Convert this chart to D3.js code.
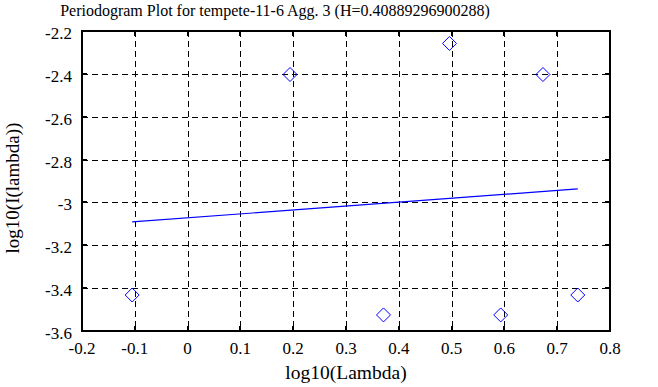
<!DOCTYPE html>
<html>
<head>
<meta charset="utf-8">
<script src="https://cdn.jsdelivr.net/npm/d3@7"></script>
<style>
  body { margin: 0; background: #fff; }
</style>
</head>
<body>
<svg id="chart" width="658" height="387"></svg>
<script>
const title = 'Periodogram Plot for tempete-11-6 Agg. 3 (H=0.40889296900288)';
const xTicks = [-0.2, -0.1, 0, 0.1, 0.2, 0.3, 0.4, 0.5, 0.6, 0.7, 0.8];
const yTicks = [-2.2, -2.4, -2.6, -2.8, -3, -3.2, -3.4, -3.6];
const logLambda = [-0.105, 0.194, 0.371, 0.496, 0.593, 0.673, 0.739];
const logI = [-3.432, -2.403, -3.525, -2.258, -3.525, -2.403, -3.432];
const fitX = [-0.105, 0.739];
const fitY = [-3.091, -2.937];

const FONT = '"Liberation Serif", "Times New Roman", Times, serif';
const svg = d3.select('#chart').attr('font-family', FONT);
const m = { left: 82, top: 31, right: 610, bottom: 331 };

const x = d3.scaleLinear().domain([-0.2, 0.8]).range([m.left, m.right]);
const y = d3.scaleLinear().domain([-3.6, -2.2]).range([m.bottom, m.top]);

// dashed grid
svg.append('g')
  .selectAll('line')
  .data(xTicks.slice(1, -1))
  .join('line')
  .attr('x1', d => Math.round(x(d)) + 0.5)
  .attr('x2', d => Math.round(x(d)) + 0.5)
  .attr('y1', m.top).attr('y2', m.bottom)
  .attr('stroke', '#000').attr('stroke-dasharray', '6,4');

svg.append('g')
  .selectAll('line')
  .data(yTicks.slice(1, -1))
  .join('line')
  .attr('y1', d => Math.round(y(d)) + 0.5)
  .attr('y2', d => Math.round(y(d)) + 0.5)
  .attr('x1', m.left).attr('x2', m.right)
  .attr('stroke', '#000').attr('stroke-dasharray', '6,4');

// inner tick marks on all sides
const tickLen = 5;
const ticks = svg.append('g').attr('stroke', '#000').attr('stroke-width', 2);
xTicks.forEach(t => {
  const px = Math.round(x(t));
  ticks.append('line').attr('x1', px).attr('x2', px).attr('y1', m.top).attr('y2', m.top + tickLen);
  ticks.append('line').attr('x1', px).attr('x2', px).attr('y1', m.bottom).attr('y2', m.bottom - tickLen);
});
yTicks.forEach(t => {
  const py = Math.round(y(t));
  ticks.append('line').attr('y1', py).attr('y2', py).attr('x1', m.left).attr('x2', m.left + tickLen);
  ticks.append('line').attr('y1', py).attr('y2', py).attr('x1', m.right).attr('x2', m.right - tickLen);
});

// frame
svg.append('rect')
  .attr('x', m.left).attr('y', m.top)
  .attr('width', m.right - m.left).attr('height', m.bottom - m.top)
  .attr('fill', 'none').attr('stroke', '#000').attr('stroke-width', 2);

// tick labels (plain hyphen minus, as in the original)
svg.append('g')
  .selectAll('text')
  .data(xTicks)
  .join('text')
  .attr('x', d => x(d))
  .attr('y', m.bottom + 23)
  .attr('text-anchor', 'middle')
  .attr('font-size', 17)
  .text(d => String(d));

svg.append('g')
  .selectAll('text')
  .data(yTicks)
  .join('text')
  .attr('x', m.left - 10)
  .attr('y', d => y(d) + 8)
  .attr('text-anchor', 'end')
  .attr('font-size', 17)
  .text(d => String(d));

// fitted line
svg.append('line')
  .attr('x1', x(fitX[0])).attr('y1', y(fitY[0]))
  .attr('x2', x(fitX[1])).attr('y2', y(fitY[1]))
  .attr('stroke', '#0000ff').attr('stroke-width', 1.2);

// diamonds
const pts = logLambda.map((v, i) => [v, logI[i]]);
const r = 7;
svg.append('g')
  .selectAll('path')
  .data(pts)
  .join('path')
  .attr('d', ([a, b]) => {
    const cx = x(a), cy = y(b);
    return `M${cx},${cy - r}L${cx + r},${cy}L${cx},${cy + r}L${cx - r},${cy}Z`;
  })
  .attr('fill', 'none')
  .attr('stroke', '#0000ff')
  .attr('stroke-width', 1);

// titles
svg.append('text')
  .attr('x', 275).attr('y', 16)
  .attr('text-anchor', 'middle')
  .attr('font-size', 16)
  .text(title);

svg.append('text')
  .attr('x', 346).attr('y', 379)
  .attr('text-anchor', 'middle')
  .attr('font-size', 19.5)
  .text('log10(Lambda)');

svg.append('text')
  .attr('transform', 'translate(19,188) rotate(-90)')
  .attr('text-anchor', 'middle')
  .attr('font-size', 19)
  .text('log10(I(lambda))');
</script>
</body>
</html>
